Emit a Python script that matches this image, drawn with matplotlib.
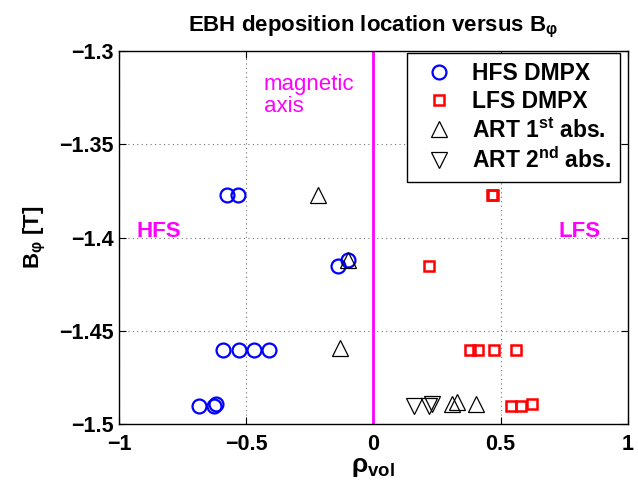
import numpy as np
import matplotlib
matplotlib.use("Agg")
from matplotlib import pyplot as plt

plt.rcParams["font.family"] = ["Liberation Sans", "DejaVu Sans"]
plt.rcParams["font.weight"] = "bold"
plt.rcParams["axes.labelweight"] = "bold"
plt.rcParams["mathtext.fontset"] = "custom"
plt.rcParams["mathtext.rm"] = "Liberation Sans:bold"
plt.rcParams["mathtext.bf"] = "Liberation Sans:bold"
plt.rcParams["mathtext.sf"] = "Liberation Sans"
plt.rcParams["mathtext.default"] = "regular"

# HFS DMPX
hfs_x = [-0.574, -0.534, -0.138, -0.098, -0.59, -0.53, -0.47, -0.41, -0.684, -0.625, -0.617]
hfs_y = [-1.377, -1.377, -1.415, -1.412, -1.460, -1.460, -1.460, -1.460, -1.490, -1.490, -1.489]
# LFS DMPX
lfs_x = [0.47, 0.465, 0.22, 0.38, 0.41, 0.475, 0.56, 0.54, 0.58, 0.625]
lfs_y = [-1.377, -1.377, -1.415, -1.460, -1.460, -1.460, -1.460, -1.490, -1.490, -1.489]
# ART 1st absorption
art1_x = [-0.216, -0.098, -0.13, 0.31, 0.33, 0.405]
art1_y = [-1.377, -1.412, -1.459, -1.489, -1.488, -1.489]
# ART 2nd absorption
art2_x = [0.16, 0.22, 0.23]
art2_y = [-1.490, -1.490, -1.489]

xticks = [-1, -0.5, 0, 0.5, 1]
xticklabels = ["\u22121", "\u22120.5", "0", "0.5", "1"]
yticks = [-1.5, -1.45, -1.4, -1.35, -1.3]
yticklabels = ["\u22121.5", "\u22121.45", "\u22121.4", "\u22121.35", "\u22121.3"]

fig = plt.figure(figsize=(6.38, 4.82), dpi=100)
ax = fig.add_axes([0.1865, 0.120, 0.7975, 0.774])

ax.plot(hfs_x, hfs_y, "o", mfc="none", mec="blue", ms=10, mew=1.6, ls="none", label="HFS DMPX")
ax.plot(lfs_x, lfs_y, "s", mfc="none", mec="red", ms=7.5, mew=1.8, ls="none", label="LFS DMPX")
ax.plot(art1_x, art1_y, "^", mfc="none", mec="black", ms=12, mew=0.9, ls="none", label="ART 1$^{st}$ abs.")
ax.plot(art2_x, art2_y, "v", mfc="none", mec="black", ms=12, mew=0.9, ls="none", label="ART 2$^{nd}$ abs.")

ax.axvline(0, color="magenta", lw=2)
ax.text(-0.43, -1.3123, "magnetic\naxis", color="magenta", fontsize=16, fontweight="normal",
        va="top", linespacing=1.05)
ax.text(-0.93, -1.3997, "HFS", color="magenta", fontsize=16, va="baseline")
ax.text(0.727, -1.3997, "LFS", color="magenta", fontsize=16, va="baseline")

ax.set_xlim(-1, 1)
ax.set_ylim(-1.5, -1.3)
ax.set_xticks(xticks)
ax.set_xticklabels(xticklabels)
ax.set_yticks(yticks)
ax.set_yticklabels(yticklabels)
ax.tick_params(direction="in", labelsize=15.5, top=True, right=True, length=5)
ax.tick_params(axis="x", pad=7)
ax.tick_params(axis="y", pad=4)
ax.grid(True, ls=(0, (1, 3)), color="0.45", lw=0.8)
for s in ax.spines.values():
    s.set_linewidth(1)

ax.set_xlabel("$\\mathsf{\u03c1}_{vol}$", fontsize=19, labelpad=0)
ax.set_ylabel("B$_{\\mathsf{\u03c6}}$ [T]", fontsize=16, labelpad=8)
ax.set_title("EBH deposition location versus B$_{\\mathsf{\u03c6}}$", fontsize=16, fontweight="bold", pad=14)

leg = ax.legend(loc="upper right", bbox_to_anchor=(0.985, 0.995), fontsize=16.5, fancybox=False,
                edgecolor="black", borderaxespad=0, handletextpad=0.45, labelspacing=0.22,
                borderpad=0.4, framealpha=1)
leg.get_frame().set_linewidth(1)

fig.savefig("out.png", dpi=100)
